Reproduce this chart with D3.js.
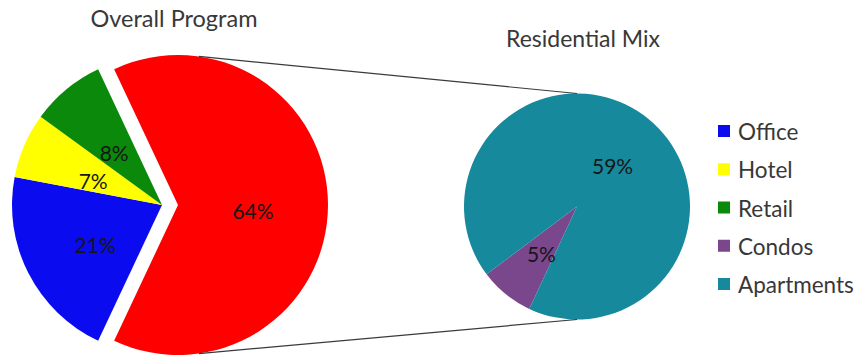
<!DOCTYPE html>
<html>
<head>
<meta charset="utf-8">
<script src="https://cdn.jsdelivr.net/npm/d3@7/dist/d3.min.js"></script>
<style>
  body { margin: 0; background: #fff; }
  text { font-family: Lato, "Open Sans", sans-serif; }
</style>
</head>
<body>
<svg id="chart" width="859" height="358"></svg>
<script>
// Overall program split (percent of total)
const overallCategories = ["Residential", "Office", "Hotel", "Retail"];
const overallValues = [64, 21, 7, 8];

// Residential breakdown (percent of total program)
const residentialCategories = ["Condos", "Apartments"];
const residentialValues = [5, 59];

// Legend entries
const legendLabels = ["Office", "Hotel", "Retail", "Condos", "Apartments"];

const titles = ["Overall Program", "Residential Mix"];

const palette = {
  Residential: "#ff0000",
  Office: "#0b0bef",
  Hotel: "#ffff00",
  Retail: "#0a890a",
  Condos: "#7a468c",
  Apartments: "#16899c"
};

const svg = d3.select("#chart");
svg.append("rect").attr("width", 859).attr("height", 358).attr("fill", "#fff");

const deg = Math.PI / 180;

// ---- Left pie: overall program, residential slice pulled out to the right
const left = { cx: 162, cy: 205, r: 150, explode: 16 };
const resShare = overallValues[0] / d3.sum(overallValues);
const leftStart = Math.PI / 2 - resShare * Math.PI; // centre the residential slice on 3 o'clock

const leftPie = d3.pie().sort(null).value(d => d.value)
  .startAngle(leftStart).endAngle(leftStart + 2 * Math.PI);
const leftData = leftPie(overallCategories.map((c, i) => ({ cat: c, value: overallValues[i] })));

const leftArc = d3.arc().innerRadius(0).outerRadius(left.r);
const leftLabelArc = d3.arc().innerRadius(left.r * 0.5).outerRadius(left.r * 0.5);

const gLeft = svg.append("g").attr("transform", `translate(${left.cx},${left.cy})`);
const leftSlices = gLeft.selectAll("g.slice").data(leftData).join("g")
  .attr("class", "slice")
  .attr("transform", d => {
    if (d.data.cat !== "Residential") return null;
    const mid = (d.startAngle + d.endAngle) / 2;
    return `translate(${Math.sin(mid) * left.explode},${-Math.cos(mid) * left.explode})`;
  });
leftSlices.append("path").attr("d", leftArc).attr("fill", d => palette[d.data.cat]);
leftSlices.append("text")
  .attr("transform", d => `translate(${leftLabelArc.centroid(d)})`)
  .attr("text-anchor", "middle").attr("dy", "0.66em")
  .attr("font-size", 21).attr("fill", "#161616")
  .text(d => d.data.value + "%");

// ---- Right pie: residential mix
const right = { cx: 577, cy: 206.5, r: 113 };
const rightStart = 205 * deg;
const rightPie = d3.pie().sort(null).value(d => d.value)
  .startAngle(rightStart).endAngle(rightStart + 2 * Math.PI);
const rightData = rightPie(residentialCategories.map((c, i) => ({ cat: c, value: residentialValues[i] })));
const rightArc = d3.arc().innerRadius(0).outerRadius(right.r);
const rightLabelArc = d3.arc().innerRadius(right.r * 0.5).outerRadius(right.r * 0.5);

const gRight = svg.append("g").attr("transform", `translate(${right.cx},${right.cy})`);
gRight.selectAll("path").data(rightData).join("path")
  .attr("d", rightArc).attr("fill", d => palette[d.data.cat]);
gRight.selectAll("text").data(rightData).join("text")
  .attr("transform", d => `translate(${rightLabelArc.centroid(d)})`)
  .attr("text-anchor", "middle").attr("dy", "0.55em")
  .attr("font-size", 21).attr("fill", "#161616")
  .text(d => d.data.value + "%");

// ---- Connector lines from the pulled-out slice to the secondary pie
const resMid = (leftData[0].startAngle + leftData[0].endAngle) / 2;
const resCx = left.cx + Math.sin(resMid) * left.explode;
const resCy = left.cy - Math.cos(resMid) * left.explode;
const onCircle = (cx, cy, r, a) => [cx + Math.sin(a) * r, cy - Math.cos(a) * r];
const connectors = [
  [onCircle(resCx, resCy, left.r, 8 * deg), onCircle(right.cx, right.cy, right.r, 0)],
  [onCircle(resCx, resCy, left.r, 172 * deg), onCircle(right.cx, right.cy, right.r, Math.PI)]
];
svg.selectAll("line.connector").data(connectors).join("line")
  .attr("class", "connector")
  .attr("x1", d => d[0][0]).attr("y1", d => d[0][1])
  .attr("x2", d => d[1][0]).attr("y2", d => d[1][1])
  .attr("stroke", "#3a3a3a").attr("stroke-width", 1.2);

// ---- Titles
svg.append("text").attr("x", 174).attr("y", 27).attr("text-anchor", "middle")
  .attr("font-size", 23.5).attr("fill", "#383838").text(titles[0]);
svg.append("text").attr("x", 583).attr("y", 47).attr("text-anchor", "middle")
  .attr("font-size", 23).attr("fill", "#383838").text(titles[1]);

// ---- Legend
const legendY = d3.scalePoint().domain(legendLabels).range([132, 285]);
const legend = svg.append("g").selectAll("g").data(legendLabels).join("g")
  .attr("transform", d => `translate(718,${legendY(d)})`);
legend.append("rect").attr("x", 0).attr("y", -7).attr("width", 12).attr("height", 12)
  .attr("fill", d => palette[d]);
legend.append("text").attr("x", 20).attr("dy", "0.36em")
  .attr("font-size", 22.5).attr("fill", "#383838").text(d => d);
</script>
</body>
</html>
